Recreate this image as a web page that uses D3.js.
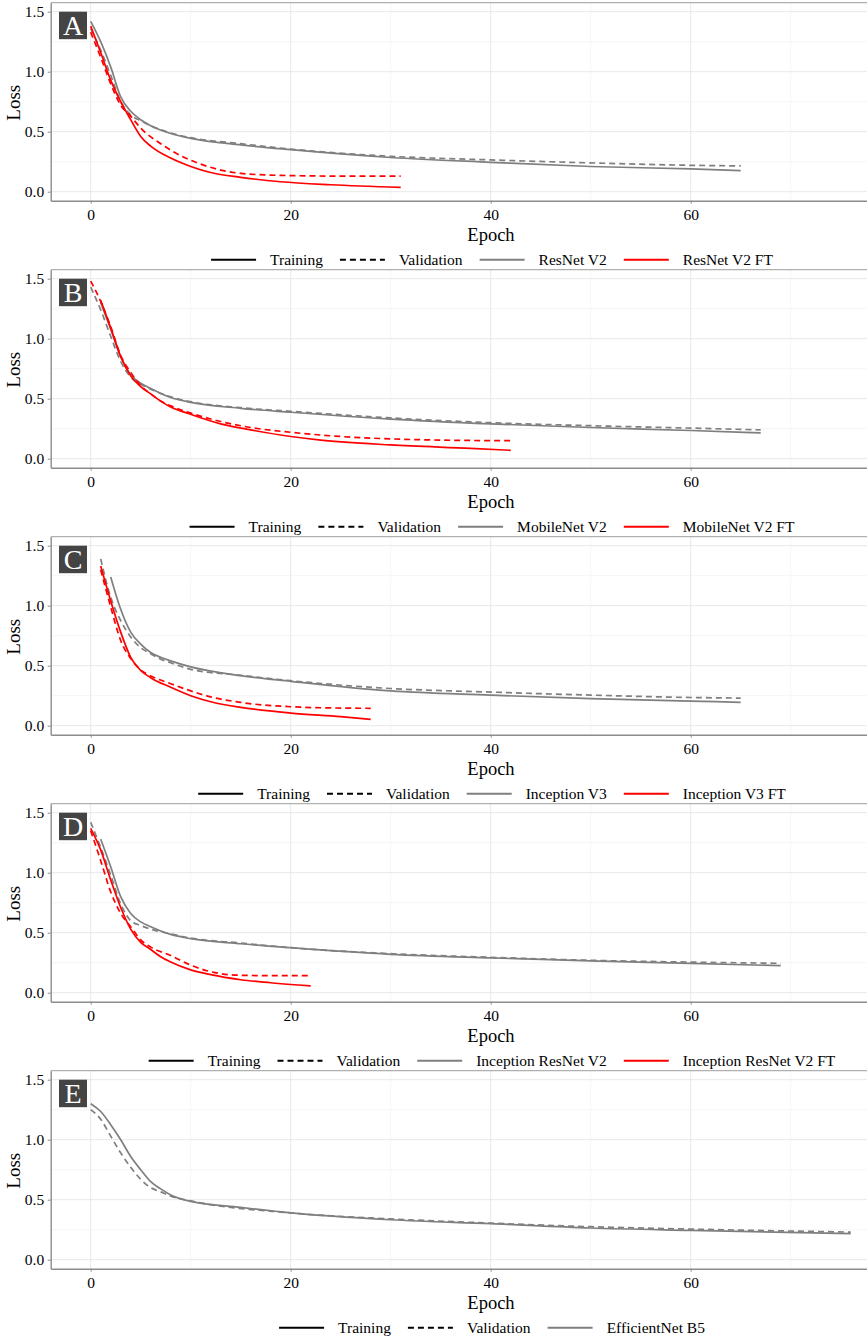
<!DOCTYPE html>
<html>
<head>
<meta charset="utf-8">
<script src="https://cdn.jsdelivr.net/npm/d3@7"></script>
<style>
  body { margin: 0; background: #fff; }
  svg { display: block; }
  text { font-family: "Liberation Serif", "Times New Roman", serif; }
</style>
</head>
<body>
<svg id="chart"></svg>
<script>
// panel letters and model names
const panelLetters = ["A", "B", "C", "D", "E"];
const modelNames = ["ResNet V2", "MobileNet V2", "Inception V3", "Inception ResNet V2", "EfficientNet B5"];

// [epoch, loss]
// A - ResNet V2
const resnetTrain = [[0,1.42],[1,1.25],[2,1.04],[3,0.79],[4,0.67],[5,0.60],[6,0.55],[8,0.485],[10,0.445],[15,0.39],[20,0.35],[30,0.285],[40,0.245],[50,0.21],[60,0.19],[65,0.175]];
const resnetVal = [[0,1.36],[1,1.18],[2,0.97],[3,0.75],[4,0.64],[5,0.59],[6,0.55],[8,0.49],[10,0.45],[15,0.40],[20,0.355],[30,0.295],[40,0.265],[50,0.24],[60,0.22],[65,0.215]];
const resnetFtTrain = [[0,1.38],[1,1.16],[2,0.93],[3,0.75],[4,0.60],[5,0.46],[6,0.38],[8,0.28],[10,0.21],[12,0.16],[15,0.12],[19,0.083],[24,0.058],[31,0.036]];
const resnetFtVal = [[0,1.33],[1,1.12],[2,0.90],[3,0.72],[4,0.63],[5,0.53],[7,0.40],[9,0.30],[11,0.23],[13,0.18],[15,0.153],[19,0.136],[25,0.13],[31,0.13]];
// B - MobileNet V2
const mobileTrain = [[1,1.30],[2,1.08],[3,0.85],[4,0.70],[5,0.63],[6,0.585],[8,0.51],[10,0.47],[15,0.42],[20,0.387],[30,0.33],[40,0.29],[50,0.26],[60,0.235],[67,0.215]];
const mobileVal = [[0,1.43],[1,1.24],[2,1.02],[3,0.81],[4,0.68],[5,0.62],[6,0.58],[8,0.515],[10,0.475],[15,0.425],[20,0.395],[30,0.34],[40,0.30],[50,0.275],[60,0.255],[67,0.24]];
const mobileFtTrain = [[1,1.32],[2,1.09],[3,0.85],[4,0.69],[5,0.60],[6,0.54],[7,0.48],[8,0.43],[10,0.37],[13,0.29],[16,0.24],[20,0.185],[23,0.155],[30,0.115],[38,0.086],[42,0.07]];
const mobileFtVal = [[0,1.48],[1,1.31],[2,1.10],[3,0.86],[4,0.72],[5,0.61],[6,0.54],[7,0.48],[8,0.44],[10,0.38],[13,0.31],[16,0.26],[20,0.22],[25,0.185],[30,0.165],[35,0.155],[42,0.15]];
// C - Inception V3
const inceptionTrain = [[2,1.24],[3,0.97],[4,0.78],[5,0.68],[6,0.61],[7,0.57],[8,0.54],[10,0.49],[15,0.417],[20,0.37],[30,0.29],[40,0.255],[50,0.225],[60,0.205],[65,0.195]];
const inceptionVal = [[1,1.39],[2,1.07],[3,0.875],[4,0.74],[5,0.65],[6,0.60],[7,0.555],[8,0.525],[10,0.47],[15,0.42],[20,0.375],[30,0.31],[40,0.28],[50,0.255],[60,0.235],[65,0.23]];
const inceptionFtTrain = [[1,1.33],[2,1.04],[3,0.78],[4,0.57],[5,0.46],[6,0.40],[8,0.32],[10,0.25],[12,0.20],[15,0.153],[20,0.105],[25,0.075],[28,0.053]];
const inceptionFtVal = [[1,1.30],[2,0.99],[3,0.71],[4,0.56],[5,0.465],[6,0.415],[8,0.35],[10,0.29],[12,0.24],[15,0.194],[20,0.158],[25,0.147],[28,0.145]];
// D - Inception ResNet V2
const irnTrain = [[1,1.28],[2,1.05],[3,0.80],[4,0.66],[5,0.59],[6,0.55],[8,0.486],[10,0.45],[15,0.408],[20,0.375],[30,0.32],[40,0.29],[50,0.265],[60,0.245],[69,0.225]];
const irnVal = [[0,1.42],[1,1.21],[2,0.98],[3,0.74],[4,0.60],[5,0.56],[6,0.53],[8,0.49],[10,0.455],[15,0.414],[20,0.375],[30,0.325],[40,0.295],[50,0.27],[60,0.255],[69,0.245]];
const irnFtTrain = [[0,1.37],[1,1.19],[2,0.94],[3,0.71],[4,0.53],[5,0.42],[6,0.36],[7,0.30],[8,0.255],[10,0.19],[12,0.15],[15,0.108],[18,0.083],[22,0.056]];
const irnFtVal = [[0,1.35],[1,1.10],[2,0.84],[3,0.66],[4,0.55],[5,0.44],[6,0.38],[8,0.31],[10,0.23],[12,0.175],[15,0.145],[18,0.142],[22,0.142]];
// E - EfficientNet B5
const effTrain = [[0,1.30],[1,1.235],[2,1.125],[3,1.0],[4,0.86],[5,0.75],[6,0.65],[7,0.59],[8,0.54],[10,0.486],[15,0.436],[20,0.39],[30,0.333],[40,0.30],[50,0.264],[60,0.244],[76,0.217]];
const effVal = [[0,1.25],[1,1.17],[2,1.03],[3,0.89],[4,0.77],[5,0.67],[6,0.60],[7,0.565],[8,0.53],[10,0.49],[20,0.39],[30,0.34],[40,0.305],[50,0.275],[60,0.255],[76,0.23]];

const xTicks = [0, 20, 40, 60];
const xGrid = [0, 20, 40, 60, 80];
const xMinor = [10, 30, 50, 70];
const yTicks = [0, 0.5, 1.0, 1.5];
const yMinor = [0.25, 0.75, 1.25];

const baseTrain = [resnetTrain, mobileTrain, inceptionTrain, irnTrain, effTrain];
const baseVal = [resnetVal, mobileVal, inceptionVal, irnVal, effVal];
const ftTrain = [resnetFtTrain, mobileFtTrain, inceptionFtTrain, irnFtTrain, null];
const ftVal = [resnetFtVal, mobileFtVal, inceptionFtVal, irnFtVal, null];

const W = 867, H = 1339;
const panelStep = 267;
const GRAY = "#7f7f7f", RED = "#ff0000";
const DASH = "6,4";

const svg = d3.select("#chart").attr("width", W).attr("height", H);
svg.append("rect").attr("width", W).attr("height", H).attr("fill", "#fff");

const x = d3.scaleLinear().domain([-4, 84]).range([50.7, 930.7]);

const line = d3.line()
  .x(d => x(d[0]))
  .y(d => d.y)
  .curve(d3.curveMonotoneX);

panelLetters.forEach(function(letter, i) {
  const T = 2.7 + panelStep * i;
  const y = d3.scaleLinear().domain([-0.075, 1.575]).range([T + 198, T]);
  const g = svg.append("g");

  // grid
  g.selectAll(".ymin").data(yMinor).enter().append("line")
    .attr("x1", x.range()[0]).attr("x2", x.range()[1])
    .attr("y1", d => y(d)).attr("y2", d => y(d))
    .attr("stroke", "#f3f3f3").attr("stroke-width", 0.8);
  g.selectAll(".xmin").data(xMinor).enter().append("line")
    .attr("y1", y.range()[0]).attr("y2", y.range()[1])
    .attr("x1", d => x(d)).attr("x2", d => x(d))
    .attr("stroke", "#f3f3f3").attr("stroke-width", 0.8);
  g.selectAll(".ymaj").data(yTicks).enter().append("line")
    .attr("x1", x.range()[0]).attr("x2", x.range()[1])
    .attr("y1", d => y(d)).attr("y2", d => y(d))
    .attr("stroke", "#e8e8e8").attr("stroke-width", 1);
  g.selectAll(".xmaj").data(xGrid).enter().append("line")
    .attr("y1", y.range()[0]).attr("y2", y.range()[1])
    .attr("x1", d => x(d)).attr("x2", d => x(d))
    .attr("stroke", "#e8e8e8").attr("stroke-width", 1);

  // top border
  g.append("line")
    .attr("x1", x.range()[0]).attr("x2", x.range()[1])
    .attr("y1", T).attr("y2", T)
    .attr("stroke", "#b0b0b0").attr("stroke-width", 1.2);

  // series
  const series = [
    {data: baseTrain[i], color: GRAY, dash: null},
    {data: baseVal[i], color: GRAY, dash: DASH}
  ];
  if (ftTrain[i]) {
    series.push({data: ftTrain[i], color: RED, dash: null});
    series.push({data: ftVal[i], color: RED, dash: DASH});
  }
  series.forEach(function(s) {
    const pts = s.data.map(d => { const p = [d[0], d[1]]; p.y = y(d[1]); return p; });
    g.append("path")
      .attr("d", line(pts))
      .attr("fill", "none")
      .attr("stroke", s.color)
      .attr("stroke-width", 1.7)
      .attr("stroke-dasharray", s.dash);
  });

  // axes
  const yAxis = g.append("g")
    .attr("transform", "translate(" + x.range()[0] + ",0)")
    .call(d3.axisLeft(y).tickValues(yTicks).tickFormat(d3.format(".1f"))
      .tickSize(3).tickSizeOuter(0).tickPadding(3.5));
  const xAxis = g.append("g")
    .attr("transform", "translate(0," + y.range()[0] + ")")
    .call(d3.axisBottom(x).tickValues(xTicks).tickFormat(d3.format("d"))
      .tickSize(3).tickSizeOuter(0).tickPadding(5));
  [yAxis, xAxis].forEach(function(a) {
    a.select(".domain").attr("stroke", "#8c8c8c").attr("stroke-width", 1.4);
    a.selectAll(".tick line").attr("stroke", "#8c8c8c");
    a.selectAll(".tick text").attr("fill", "#000").style("font-size", "15.5px")
      .style("font-family", "'Liberation Serif', serif");
  });

  // axis titles
  g.append("text")
    .attr("x", 491).attr("y", T + 238)
    .attr("text-anchor", "middle")
    .style("font-size", "18.5px")
    .text("Epoch");
  g.append("text")
    .attr("transform", "translate(20," + (T + 100) + ") rotate(-90)")
    .attr("text-anchor", "middle")
    .style("font-size", "19px")
    .text("Loss");

  // panel letter
  g.append("rect")
    .attr("x", 59).attr("y", T + 9)
    .attr("width", 28).attr("height", 27.5)
    .attr("fill", "#444");
  g.append("text")
    .attr("x", 73).attr("y", T + 32.5)
    .attr("text-anchor", "middle")
    .attr("fill", "#fff")
    .style("font-size", "28px")
    .text(letter);

  // legend
  const items = [
    {label: "Training", color: "#000", dash: null},
    {label: "Validation", color: "#000", dash: DASH},
    {label: modelNames[i], color: GRAY, dash: null}
  ];
  if (ftTrain[i]) items.push({label: modelNames[i] + " FT", color: RED, dash: null});

  const leg = g.append("g");
  const ly = T + 257;
  let cx = 0;
  items.forEach(function(it, k) {
    leg.append("line")
      .attr("x1", cx).attr("x2", cx + 45)
      .attr("y1", ly).attr("y2", ly)
      .attr("stroke", it.color).attr("stroke-width", 2)
      .attr("stroke-dasharray", it.dash);
    const t = leg.append("text")
      .attr("x", cx + 59).attr("y", ly + 5)
      .style("font-size", "15.5px")
      .text(it.label);
    cx += 59 + t.node().getComputedTextLength() + 17;
  });
  const legW = cx - 17;
  leg.attr("transform", "translate(" + (492 - legW / 2) + ",0)");
});
</script>
</body>
</html>
